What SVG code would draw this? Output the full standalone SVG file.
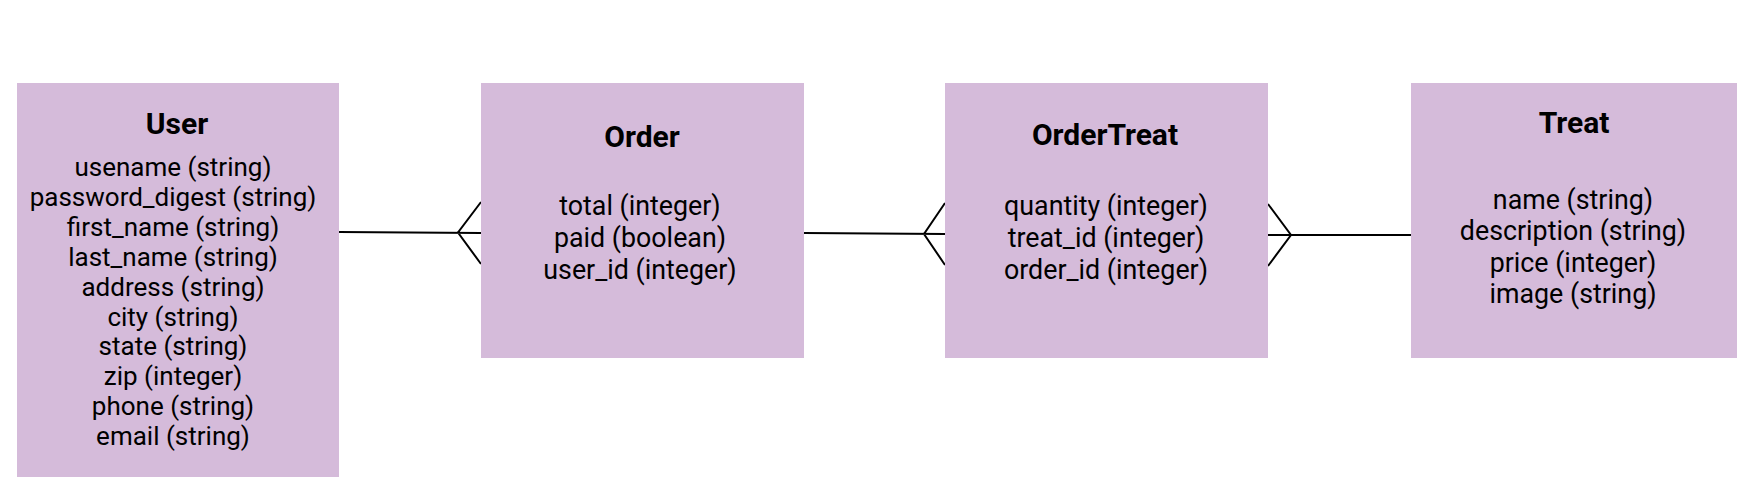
<svg xmlns="http://www.w3.org/2000/svg" width="1763" height="491" viewBox="0 0 1763 491">
<style>
.box{fill:#d5bbda}
.t{font-family:Roboto,"Liberation Sans",sans-serif;font-weight:bold;font-size:30px;text-anchor:middle;fill:#000}
.b{font-family:Roboto,"Liberation Sans",sans-serif;font-size:26px;text-anchor:middle;fill:#000}
.b2{font-family:Roboto,"Liberation Sans",sans-serif;font-size:26.8px;text-anchor:middle;fill:#000}
.c{stroke:#000;stroke-width:2;fill:none}
</style>
<rect width="1763" height="491" fill="#fff"/>
<g id="connectors">
<path class="c" d="M339,232 L481,233 M481,202 L458,232.5 L481,264"/>
<path class="c" d="M804,233 L945,234 M945,203 L924,234 L945,265"/>
<path class="c" d="M1268,235 L1411,235 M1268,204 L1291,235 L1268,266"/>
</g>
<g id="user">
<rect class="box" x="17" y="83" width="322" height="394"/>
<text class="t" x="177" y="133.5">User</text>
<text class="b" x="173" y="176">usename (string)</text>
<text class="b" x="173" y="205.9">password_digest (string)</text>
<text class="b" x="173" y="235.8">first_name (string)</text>
<text class="b" x="173" y="265.7">last_name (string)</text>
<text class="b" x="173" y="295.6">address (string)</text>
<text class="b" x="173" y="325.5">city (string)</text>
<text class="b" x="173" y="355.4">state (string)</text>
<text class="b" x="173" y="385.3">zip (integer)</text>
<text class="b" x="173" y="415.2">phone (string)</text>
<text class="b" x="173" y="445.1">email (string)</text>
</g>
<g id="order">
<rect class="box" x="481" y="83" width="323" height="275"/>
<text class="t" x="642" y="147">Order</text>
<text class="b2" x="640" y="214.5">total (integer)</text>
<text class="b2" x="640" y="246.5">paid (boolean)</text>
<text class="b2" x="640" y="278.5">user_id (integer)</text>
</g>
<g id="ordertreat">
<rect class="box" x="945" y="83" width="323" height="275"/>
<text class="t" x="1105" y="145">OrderTreat</text>
<text class="b2" x="1106" y="214.5">quantity (integer)</text>
<text class="b2" x="1106" y="246.5">treat_id (integer)</text>
<text class="b2" x="1106" y="278.5">order_id (integer)</text>
</g>
<g id="treat">
<rect class="box" x="1411" y="83" width="326" height="275"/>
<text class="t" x="1574" y="133">Treat</text>
<text class="b2" x="1573" y="208.5">name (string)</text>
<text class="b2" x="1573" y="240">description (string)</text>
<text class="b2" x="1573" y="271.5">price (integer)</text>
<text class="b2" x="1573" y="302.5">image (string)</text>
</g>
</svg>
